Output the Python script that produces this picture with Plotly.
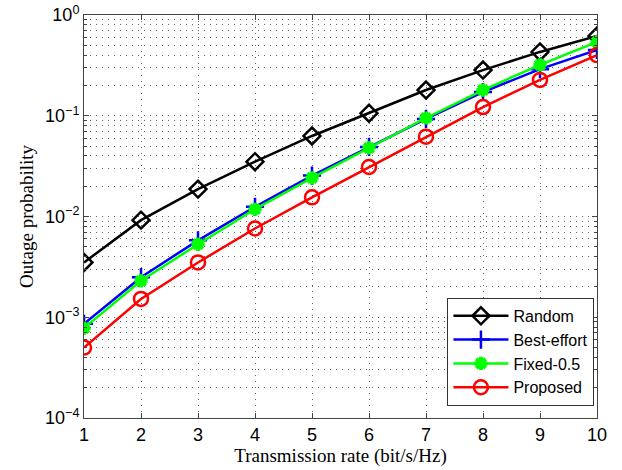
import plotly.graph_objects as go

rate = [1, 2, 3, 4, 5, 6, 7, 8, 9, 10]
random_p = [3.5e-3, 9.2e-3, 0.0187, 0.035, 0.063, 0.106, 0.18, 0.284, 0.43, 0.62]
best_effort = [8.6e-4, 2.5e-3, 5.8e-3, 0.0125, 0.0255, 0.049, 0.093, 0.172, 0.29, 0.45]
fixed_05 = [7.8e-4, 2.3e-3, 5.3e-3, 0.0118, 0.0242, 0.048, 0.095, 0.18, 0.32, 0.54]
proposed = [5.0e-4, 1.52e-3, 3.5e-3, 7.6e-3, 0.0155, 0.031, 0.062, 0.122, 0.227, 0.40]

ytick_vals = [1e-4, 1e-3, 1e-2, 1e-1, 1]
ytick_text = ["10<sup>−4</sup>", "10<sup>−3</sup>", "10<sup>−2</sup>", "10<sup>−1</sup>", "10<sup>0</sup>"]

series = [
    ("Random", random_p, "black", dict(symbol="diamond-open", size=13, line=dict(width=2.5, color="black"))),
    ("Best-effort", best_effort, "blue", dict(symbol="cross-thin-open", size=13, line=dict(width=2.5, color="blue"))),
    ("Fixed-0.5", fixed_05, "#00ff00", dict(symbol="asterisk-open", size=11, line=dict(width=4, color="#00ff00"))),
    ("Proposed", proposed, "red", dict(symbol="circle-open", size=14, line=dict(width=2.5, color="red"))),
]

fig = go.Figure()
for name, vals, color, marker in series:
    fig.add_trace(go.Scatter(x=rate, y=vals, name=name, mode="lines+markers",
                             line=dict(color=color, width=2.5), marker=marker))

axis_font = dict(family="Liberation Sans, Arial", size=18, color="black")
grid_color = "#666"
grid_dash = "1px,5px"
fig.update_layout(
    width=622, height=470,
    margin=dict(l=84, r=25, t=15, b=52),
    paper_bgcolor="white", plot_bgcolor="white",
    font=dict(family="Liberation Sans, Arial", color="black"),
    legend=dict(x=0.995, y=0.03, xanchor="right", yanchor="bottom",
                bgcolor="white", bordercolor="#333", borderwidth=1,
                font=dict(family="Liberation Sans, Arial", size=16, color="black"),
                tracegroupgap=0, itemwidth=55),
    xaxis=dict(range=[1, 10], tickvals=rate, ticks="inside", ticklen=5,
               showline=True, linecolor="#444", linewidth=1, mirror="ticks",
               showgrid=True, gridcolor=grid_color, griddash=grid_dash, gridwidth=1,
               zeroline=False, tickfont=axis_font, automargin=False,
               title=dict(text="Transmission rate (bit/s/Hz)",
                          font=dict(family="Liberation Serif, Times New Roman", size=19, color="black"),
                          standoff=2)),
    yaxis=dict(type="log", range=[-4, 0], tickvals=ytick_vals, ticktext=ytick_text,
               ticks="inside", ticklen=5,
               showline=True, linecolor="#444", linewidth=1, mirror="ticks",
               showgrid=True, gridcolor=grid_color, griddash=grid_dash, gridwidth=1,
               zeroline=False, tickfont=axis_font, automargin=False,
               minor=dict(dtick="D1", ticks="inside", ticklen=3, showgrid=True,
                          gridcolor=grid_color, griddash=grid_dash, gridwidth=1),
               title=dict(text="Outage probability",
                          font=dict(family="Liberation Serif, Times New Roman", size=19, color="black"),
                          standoff=6)),
)

fig.write_html("out.html")
